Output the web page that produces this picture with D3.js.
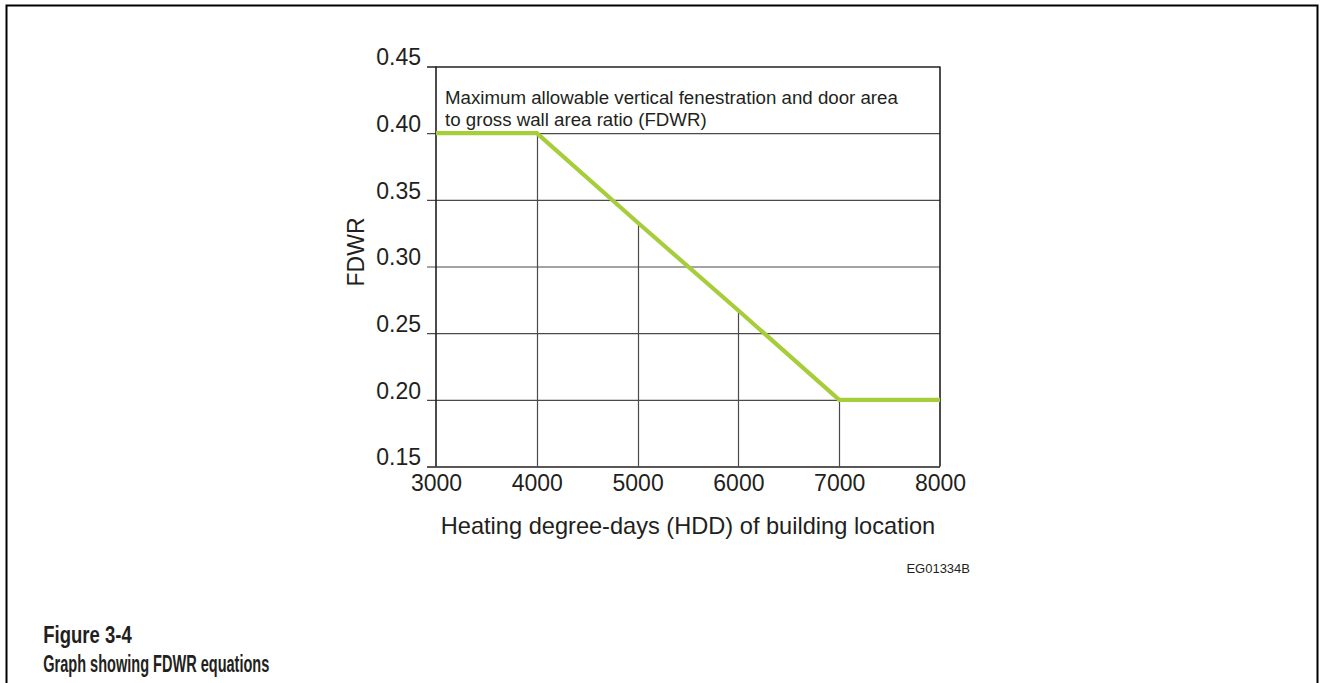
<!DOCTYPE html>
<html>
<head>
<meta charset="utf-8">
<script src="https://cdn.jsdelivr.net/npm/d3@7/dist/d3.min.js"></script>
<style>
  html, body { margin: 0; padding: 0; background: #fff; }
  svg { display: block; }
  text { font-family: Arial, "Liberation Sans", Helvetica, sans-serif; fill: #231f20; }
</style>
</head>
<body>
<svg id="chart" width="1320" height="683"></svg>
<script>
// ---- data ----
const hddTicks = [3000, 4000, 5000, 6000, 7000, 8000];
const fdwrTicks = [0.15, 0.20, 0.25, 0.30, 0.35, 0.40, 0.45];
const lineHDD  = [3000, 4000, 5000, 6000, 7000, 8000];
const lineFDWR = [0.40, 0.40, 0.333, 0.267, 0.20, 0.20];
const xTitle = "Heating degree-days (HDD) of building location";
const yTitle = "FDWR";
const noteLines = ["Maximum allowable vertical fenestration and door area",
                   "to gross wall area ratio (FDWR)"];
const figCode = "EG01334B";
const captionLines = ["Figure 3-4", "Graph showing FDWR equations"];

const svg = d3.select("#chart");
const ink = "#231f20";
const grid = "#4a4a4a";
const green = "#a6cd3a";

// outer frame
svg.append("path")
  .attr("d", "M6.5,700 V5.5 H1317.5 V700")
  .attr("fill", "none").attr("stroke", "#000").attr("stroke-width", 2);

const L = 436, R = 940, T = 66.5, B = 466.5;
const x = d3.scaleLinear().domain([3000, 8000]).range([L, R]);
const y = d3.scaleLinear().domain([0.15, 0.45]).range([B, T]);

// horizontal grid + y tick labels via axis
const yAxis = svg.append("g")
  .attr("transform", `translate(${L - 9},0)`)
  .call(d3.axisLeft(y).tickValues(fdwrTicks).tickFormat(d3.format(".2f"))
        .tickSize(-(R - L + 9)).tickPadding(6));
yAxis.select(".domain").remove();
yAxis.selectAll(".tick line").attr("stroke", grid).attr("stroke-width", 1.2);
yAxis.selectAll(".tick text")
  .attr("dy", "-0.08em")
  .style("font-size", "23px").style("font-family", "Arial, 'Liberation Sans', sans-serif")
  .attr("fill", ink);
yAxis.selectAll(".tick line").filter(d => d === 0.15 || d === 0.45)
  .attr("stroke", ink).attr("stroke-width", 1.6);

// x tick labels via axis
const xAxis = svg.append("g")
  .attr("transform", `translate(0,${B})`)
  .call(d3.axisBottom(x).tickValues(hddTicks).tickFormat(d3.format("d"))
        .tickSize(0).tickPadding(8));
xAxis.select(".domain").remove();
xAxis.selectAll(".tick text")
  .style("font-size", "23px").style("font-family", "Arial, 'Liberation Sans', sans-serif")
  .attr("fill", ink);

// vertical lines from bottom up to the curve
const pts = lineHDD.map((h, i) => ({ h, v: lineFDWR[i] }));
svg.append("g").selectAll("line")
  .data(pts.filter(p => p.h > 3000 && p.h < 8000))
  .join("line")
  .attr("x1", p => Math.round(x(p.h)) + 0.5).attr("x2", p => Math.round(x(p.h)) + 0.5)
  .attr("y1", y(0.15)).attr("y2", p => y(p.v))
  .attr("stroke", grid).attr("stroke-width", 1.2);

// left and right borders
svg.append("line").attr("x1", L).attr("x2", L).attr("y1", T).attr("y2", B)
  .attr("stroke", ink).attr("stroke-width", 1.6);
svg.append("line").attr("x1", R).attr("x2", R).attr("y1", T).attr("y2", B)
  .attr("stroke", ink).attr("stroke-width", 1.6);

// green line
const lineGen = d3.line().x(p => x(p.h)).y(p => y(p.v));
svg.append("path").datum(pts)
  .attr("d", lineGen).attr("fill", "none")
  .attr("stroke", green).attr("stroke-width", 4.2)
  .attr("stroke-linejoin", "miter");

// annotation
const note = svg.append("text").style("font-size", "18.7px");
noteLines.forEach((t, i) => {
  note.append("tspan").attr("x", 445).attr("y", 104.3 + i * 21.8).text(t);
});

// axis titles
svg.append("text").attr("x", (L + R) / 2).attr("y", 533.5)
  .attr("text-anchor", "middle").style("font-size", "23.6px").text(xTitle);
svg.append("text")
  .attr("transform", `translate(364,252) rotate(-90)`)
  .attr("text-anchor", "middle").style("font-size", "23px").text(yTitle);

// figure code
svg.append("text").attr("x", 970).attr("y", 573.4)
  .attr("text-anchor", "end").style("font-size", "13px").text(figCode);

// caption
const capFont = "'Liberation Sans Narrow', 'Arial Narrow', Arial, sans-serif";
svg.append("text").attr("x", 43.3).attr("y", 643.3)
  .style("font-family", capFont).style("font-weight", "bold").style("font-size", "23px")
  .attr("textLength", 88.4).attr("lengthAdjust", "spacingAndGlyphs")
  .text(captionLines[0]);
svg.append("text").attr("x", 43.3).attr("y", 671.7)
  .style("font-family", capFont).style("font-weight", "bold").style("font-size", "23px")
  .attr("textLength", 226).attr("lengthAdjust", "spacingAndGlyphs")
  .text(captionLines[1]);
</script>
</body>
</html>
